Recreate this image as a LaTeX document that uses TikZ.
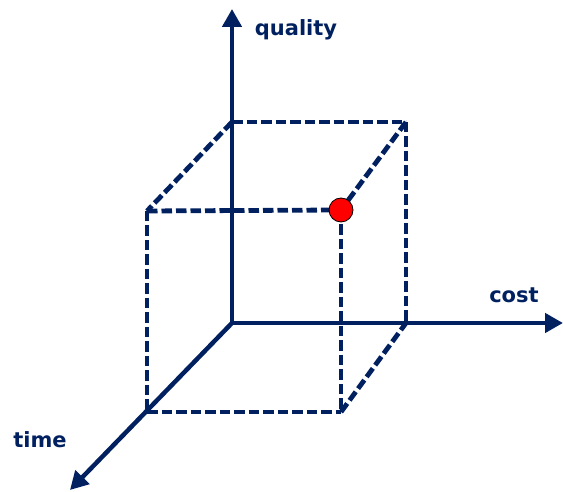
\documentclass[tikz,border=0pt]{standalone}
\usepackage{fontspec}
\setmainfont{DejaVu Sans}
\usetikzlibrary{arrows.meta}
\definecolor{navy}{RGB}{0,32,96}
\begin{document}
\begin{tikzpicture}[x=1pt,y=1pt,
  axis/.style={navy,line width=4.5pt,-{Triangle[length=18pt,width=19pt]}},
  edge/.style={navy,line width=4.8pt,dash pattern=on 10.5pt off 4pt},
  lbl/.style={navy,font=\fontsize{21}{24}\selectfont\bfseries,inner sep=0pt}]
\useasboundingbox (0,0) rectangle (563,492);
% origin and axis tips
\coordinate (O) at (232,169);
\coordinate (Q) at (232,483);
\coordinate (C) at (563,169);
\coordinate (T) at (70,2);
% cube corners
\coordinate (A) at (232,370);
\coordinate (B) at (406,370);
\coordinate (Cb) at (406,169);
\coordinate (D) at (147,281);
\coordinate (E) at (341,282);
\coordinate (F) at (147,80);
\coordinate (G) at (341,80);
% dashed edges
\draw[edge] (A) -- (B);
\draw[edge] (B) -- (Cb);
\draw[edge] (A) -- (D);
\draw[edge] (B) -- (E);
\draw[edge] (D) -- (E);
\draw[edge] (D) -- (F);
\draw[edge] (F) -- (G);
\draw[edge] (E) -- (G);
\draw[edge] (G) -- (Cb);
% axes
\draw[axis] (O) -- (Q);
\draw[axis] (O) -- (C);
\draw[axis] (O) -- (T);
% point
\node[circle,fill=red,draw=black,line width=0.8pt,minimum size=24pt,inner sep=0pt] (P) at (E) {};
% labels
\node[lbl] (lq) at (296,462) {quality};
\node[lbl] (lc) at (514,197) {cost};
\node[lbl] (lt) at (40,52) {time};
\end{tikzpicture}
\end{document}
